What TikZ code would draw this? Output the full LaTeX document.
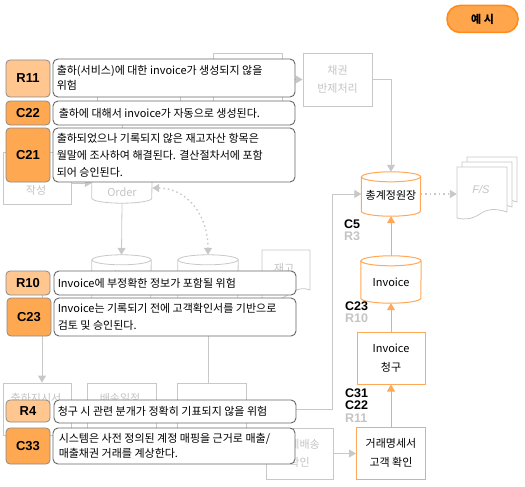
\documentclass[tikz,border=0pt]{standalone}
\usepackage{fontspec}
\setmainfont{Noto Sans CJK KR}
\newfontfamily\labfont{Liberation Sans}
\usetikzlibrary{arrows.meta}
\definecolor{cfill}{HTML}{FFA852}
\definecolor{rfill}{HTML}{FFC690}
\definecolor{lborder}{HTML}{8A8A8A}
\definecolor{tborder}{HTML}{666666}
\definecolor{bg}{HTML}{C8C8C8}
\definecolor{bgtext}{HTML}{C4C4C4}
\definecolor{org}{HTML}{FFA857}
\definecolor{btnfill}{HTML}{FFA64D}
\definecolor{btnline}{HTML}{FF8A17}
\newcommand\drawcyl[3]{%
  \filldraw[#2,fill=white] ([yshift=-5pt]#1.north west) -- ([yshift=5pt]#1.south west)
    arc[start angle=180,end angle=360,x radius=#3,y radius=5pt]
    -- ([yshift=-5pt]#1.north east)
    arc[start angle=0,end angle=180,x radius=#3,y radius=5pt] -- cycle;
  \draw[#2] ([yshift=-5pt]#1.north west) arc[start angle=180,end angle=360,x radius=#3,y radius=5pt];}
\begin{document}
\begin{tikzpicture}[x=1pt,y=-1pt,
  gbox/.style={draw=bg, line width=0.8pt, fill=white, inner sep=0pt},
  gtext/.style={text=bgtext, font=\fontsize{11}{18}\selectfont, align=center, inner sep=0pt},
  gline/.style={draw=bg, line width=0.8pt},
  garrow/.style={draw=bg, line width=0.8pt, -{Triangle[length=7pt,width=8pt]}},
  gdot/.style={draw=bg, line width=1.4pt, dash pattern=on 1.5pt off 3pt},
  oline/.style={draw=org, line width=1pt},
  oarrow/.style={draw=org, line width=1pt, -{Triangle[length=7pt,width=8pt]}},
  obox/.style={draw=org, line width=1pt, fill=white, inner sep=0pt, align=center, font=\fontsize{11}{19}\selectfont},
  phold/.style={inner sep=0pt},
  lab/.style={draw=lborder, line width=0.8pt, rounded corners=4pt, minimum width=44pt, inner sep=0pt, font=\labfont\bfseries\fontsize{13}{13}\selectfont},
  tbox/.style={draw=tborder, line width=0.9pt, rounded corners=5pt, fill=white, minimum width=242pt, inner sep=0pt},
  tbody/.style={anchor=west, align=left, inner sep=0pt, font=\fontsize{11}{16}\selectfont},
  tag/.style={font=\labfont\bfseries\fontsize{12.5}{12.5}\selectfont, inner sep=0pt, anchor=base west}
]
\useasboundingbox (0,0) rectangle (525,487);

% ---------- grey background process ----------
\node[gbox, minimum width=69pt, minimum height=53pt] (hid1) at (247.5,79.5) {};
\node[gbox, minimum width=83pt, minimum height=48pt] (hid2) at (138.5,86) {};
\node[gbox, gtext, minimum width=69pt, minimum height=53pt] (chb) at (337.5,79.5) {채권\\반제처리};
\node[gbox, minimum width=68pt, minimum height=52pt] (wr) at (37,178) {};
\node[gtext] (wrt) at (36,190) {작성};

\node[phold, minimum width=60pt, minimum height=53pt] (so) at (122,176.5) {};
\drawcyl{so}{gline}{30pt}
\node[gtext, font=\fontsize{11}{16}\selectfont] (sot) at (122,184.5) {Sales\\Order};

\node[phold, minimum width=59pt, minimum height=50pt] (del) at (121.5,280) {};
\drawcyl{del}{gline}{29.5pt}
\node[gtext] (delt) at (121.5,276) {Delivery};

\node[phold, minimum width=60pt, minimum height=50pt] (c2) at (208,280) {};
\drawcyl{c2}{gline}{30pt}

\node[phold, minimum width=48pt, minimum height=50pt] (jg) at (286,275) {};
\filldraw[gline, fill=white] (262,250) -- (310,250) -- (310,290)
  .. controls (300,286) and (292,292) .. (286,296)
  .. controls (278,301) and (270,301) .. (262,298) -- cycle;
\node[gtext] (jgt) at (284,268) {재고};

\node[gbox, minimum width=68pt, minimum height=52pt] (b1) at (37,409) {};
\node[gtext] (b1t) at (36,398) {출하지시서};
\node[gbox, minimum width=69pt, minimum height=52pt] (b2) at (121.5,409) {};
\node[gtext] (b2t) at (120,398) {배송일정};
\node[gbox, minimum width=69pt, minimum height=52pt] (b3) at (211.5,409) {};
\node[gbox, gtext, minimum width=67pt, minimum height=51pt] (b4) at (299.5,453.5) {실제배송\\확인};

% ---------- orange process ----------
\node[phold, minimum width=59pt, minimum height=44pt] (gl) at (391,194) {};
\drawcyl{gl}{oline}{29.5pt}
\node[inner sep=0pt, font=\fontsize{11}{11}\selectfont] (glt) at (391,195) {총계정원장};

\node[phold, minimum width=60pt, minimum height=47pt] (inv) at (391,279.5) {};
\drawcyl{inv}{oline}{30pt}
\node[inner sep=0pt, font=\fontsize{11}{11}\selectfont] (invt) at (391,282) {Invoice};

\node[obox, minimum width=68pt, minimum height=52pt] (ic) at (391,358) {Invoice\\청구};
\node[obox, minimum width=69pt, minimum height=52pt] (gm) at (391,453) {거래명세서\\고객 확인};

% ---------- F/S ----------
\node[phold, minimum width=60pt, minimum height=62pt] (fs) at (487,189) {};
\foreach \d in {10,5,0}{
  \filldraw[gline, fill=white, shift={(\d,-\d)}] (457,167) -- (507,167) -- (507,212)
    .. controls (495,208) and (487,209) .. (480,214)
    .. controls (472,219) and (465,220) .. (457,218) -- cycle;
}
\node[inner sep=0pt, text=bgtext, font=\labfont\itshape\fontsize{11}{11}\selectfont] (fst) at (481,190) {F/S};

% ---------- connectors ----------
\coordinate (y183) at (0,183);
\coordinate (y188) at (0,188);
\coordinate (c42) at (42,290);
\coordinate (turn1) at (332,409);
\draw[garrow] (hid1.east) -- (chb.west);
\draw[garrow] (chb.east) -| (gl.north);
\draw[garrow] (so.north |- hid2.south) -- (so.north);
\draw[garrow] (wr.east |- y183) -- (so.west |- y183);
\draw[gdot, {Triangle[length=7pt,width=8pt]}-{Triangle[length=7pt,width=8pt]}] (so.east |- y188) .. controls (186,188) and (208,214) .. (c2.north);
\draw[garrow] (so.south) -- (del.north);
\draw[garrow] (c42) -- (c42 |- b1.north);
\draw[gline] (c2.south) -- (c2.south |- b3.north);
\draw[garrow] (b3.east) -- (turn1) |- (gl.west);
\draw[garrow] (b4.east) -- (b4.east -| gm.west);
\draw[oarrow] (gm.north) -- (ic.south);
\draw[oarrow] (ic.north) -- (inv.south);
\draw[oarrow] (inv.north) -- (gl.south);
\draw[gdot, -{Triangle[length=7pt,width=8pt]}] (gl.east) -- (gl.east -| fs.west);

% ---------- control / risk tags ----------
\node[tag] (t5a) at (344,228) {C5};
\node[tag, text=bgtext] (t5b) at (344,240.5) {R3};
\node[tag] (t23a) at (345,310) {C23};
\node[tag, text=bgtext] (t23b) at (345,322.5) {R10};
\node[tag] (t31a) at (345,397) {C31};
\node[tag] (t31b) at (345,409.5) {C22};
\node[tag, text=bgtext] (t31c) at (345,422) {R11};

% ---------- callouts ----------
\node[lab, fill=rfill, minimum height=37pt] (lR11) at (28,78.5) {R11};
\node[tbox, minimum height=38pt] (tR11) at (174,78) {};
\node[tbody, font=\fontsize{11}{15}\selectfont] (xR11) at ([xshift=4pt]tR11.west) {출하(서비스)에 대한 invoice가 생성되지 않을\\위험};

\node[lab, fill=cfill, minimum height=24pt] (lC22) at (28,113) {C22};
\node[tbox, minimum height=24pt] (tC22) at (174,113) {};
\node[tbody] (xC22) at ([xshift=6pt]tC22.west) {출하에 대해서 invoice가 자동으로 생성된다.};

\node[lab, fill=cfill, minimum height=54pt] (lC21) at (28,155) {C21};
\node[tbox, minimum height=54pt] (tC21) at (174,155) {};
\node[tbody, font=\fontsize{11}{17}\selectfont] (xC21) at ([xshift=4pt]tC21.west) {출하되었으나 기록되지 않은 재고자산 항목은\\월말에 조사하여 해결된다. 결산절차서에 포함\\되어 승인된다.};

\node[lab, fill=rfill, minimum height=24pt] (lR10) at (28,283) {R10};
\node[tbox, minimum height=24pt] (tR10) at (175,283) {};
\node[tbody] (xR10) at ([xshift=4pt]tR10.west) {Invoice에 부정확한 정보가 포함될 위험};

\node[lab, fill=cfill, minimum height=38pt] (lC23) at (29,317) {C23};
\node[tbox, minimum height=38pt] (tC23) at (175,317) {};
\node[tbody, font=\fontsize{11}{17}\selectfont] (xC23) at ([xshift=4pt]tC23.west) {Invoice는 기록되기 전에 고객확인서를 기반으로\\검토 및 승인된다.};

\node[lab, fill=rfill, minimum height=22pt] (lR4) at (28,411) {R4};
\node[tbox, minimum height=23pt] (tR4) at (175,411.5) {};
\node[tbody] (xR4) at ([xshift=4pt]tR4.west) {청구 시 관련 분개가 정확히 기표되지 않을 위험};

\node[lab, fill=cfill, minimum height=36pt] (lC33) at (28,446) {C33};
\node[tbox, minimum height=36pt] (tC33) at (174,446) {};
\node[tbody, font=\fontsize{11}{15}\selectfont] (xC33) at ([xshift=6pt]tC33.west) {시스템은 사전 정의된 계정 매핑을 근거로 매출/\\매출채권 거래를 계상한다.};

% ---------- example button ----------
\node[draw=btnline, fill=btnfill, line width=1.5pt, rounded corners=13pt, minimum width=71pt, minimum height=27pt, inner sep=0pt, font=\bfseries\fontsize{11}{11}\selectfont] (ex) at (482.5,19) {예 시};
\end{tikzpicture}
\end{document}
